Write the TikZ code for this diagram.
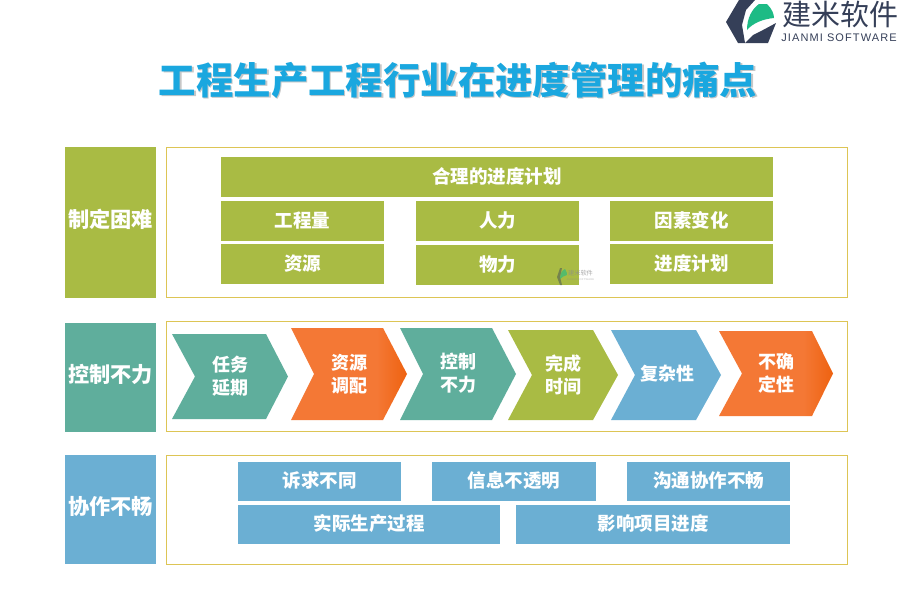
\documentclass[tikz,border=0pt]{standalone}
\usepackage{fontspec}
\usepackage{xcolor}
\usetikzlibrary{positioning}
\setmainfont{Noto Sans CJK SC}
\newfontfamily\logofont[LetterSpace=10]{Liberation Sans}
\definecolor{olive}{HTML}{A9BB44}
\definecolor{teal2}{HTML}{5FAE9C}
\definecolor{sky}{HTML}{6BAFD3}
\definecolor{orange2}{HTML}{F47835}
\definecolor{orange3}{HTML}{EE6210}
\definecolor{framecol}{HTML}{DDC555}
\definecolor{titlecol}{HTML}{1AA7DF}
\definecolor{logodark}{HTML}{353F58}
\definecolor{logogreen}{HTML}{1DBB85}
\pgfdeclarehorizontalshading{orangefade}{100bp}{color(0bp)=(orange2); color(62bp)=(orange2); color(75bp)=(orange3); color(100bp)=(orange3)}
\tikzset{
  tab/.style={fill=#1, minimum width=91pt, inner sep=0pt, outer sep=0pt, text=white, text height=16pt, text depth=6pt, font=\fontsize{21.2}{24}\selectfont\bfseries, anchor=north west},
  framebox/.style={draw=framecol, line width=1pt, fill=white, minimum width=680.5pt, inner sep=0pt, outer sep=0pt, anchor=north west},
  cell/.style={fill=#1, minimum width=163pt, minimum height=40pt, inner sep=0pt, outer sep=0pt, text=white, text height=16pt, text depth=4pt, font=\fontsize{18.5}{21}\selectfont\bfseries},
  arrowtext/.style={text=white, align=center, inner sep=0pt, font=\fontsize{18}{23}\selectfont\bfseries}
}
\begin{document}
\begin{tikzpicture}[x=1pt, y=-1pt]
  \useasboundingbox (0,0) rectangle (900,600);
  % logo
  \fill[logodark] (739,0) -- (755,0) -- (746,10) -- (742,25) -- (745,43) -- (738,43) -- (726,22) -- cycle;
  \fill[logodark] (745,43) -- (753,35) -- (763,30) -- (776,23) -- (768,43) -- cycle;
  \fill[logogreen] (747,30) .. controls (747,18) and (752,9) .. (759,4) -- (767,4) .. controls (772,9) and (774,14) .. (774,18) .. controls (763,19) and (753,23) .. (747,30) -- cycle;
  \node (L1) [anchor=center, inner sep=0pt, text=logodark, font=\fontsize{29}{30}\selectfont] at (840,14) {建米软件};
  \node (L2) [anchor=center, inner sep=0pt, text=logodark, font=\logofont\fontsize{11}{12}\selectfont] at (839,38) {JIANMI SOFTWARE};
  % title
  \node (S) [inner sep=0pt, text=black!22, font=\fontsize{37.4}{40}\selectfont\bfseries] at (459.5,81.5) {工程生产工程行业在进度管理的痛点};
  \node (T) [inner sep=0pt, text=titlecol, font=\fontsize{37.4}{40}\selectfont\bfseries] at (458,80) {工程生产工程行业在进度管理的痛点};
  % first row
  \node (A) [tab=olive, minimum height=151pt] at (65,147) {制定困难};
  \node (AF) [framebox, minimum height=150pt] at (166.5,147.5) {};
  \node (H) [cell=olive, minimum width=552pt, anchor=north west] at (221,157) {合理的进度计划};
  \node (A1) [cell=olive, anchor=north west] at (221,201) {工程量};
  \node (A2) [cell=olive, right=32pt of A1] {人力};
  \node (A3) [cell=olive, right=31pt of A2] {因素变化};
  \node (A4) [cell=olive, below=3pt of A1] {资源};
  \node (A5) [cell=olive, below=4pt of A2] {物力};
  \node (A6) [cell=olive, below=3pt of A3] {进度计划};
  % watermark
  \fill[logodark, opacity=.45] (557,277) -- (560,268) -- (562,268) -- (560,277) -- (562,285) -- (560,285) -- cycle;
  \fill[logogreen, opacity=.6] (560,279) .. controls (560,274) and (562,270) .. (565,269) .. controls (567,272) and (567,274) .. (567,275) .. controls (564,276) and (562,277) .. (560,279) -- cycle;
  \node (W) [inner sep=0pt, text=black!45, opacity=.75, font=\fontsize{6.2}{7}\selectfont] at (580.5,273) {建米软件};
  \node (W2) [inner sep=0pt, text=black!45, opacity=.6, font=\logofont\fontsize{2.6}{3}\selectfont] at (580.5,280) {JIANMI SOFTWARE};
  % second row
  \node (B) [tab=teal2, minimum height=109pt] at (65,323) {控制不力};
  \node (BF) [framebox, minimum height=109.5pt] at (166.5,321.5) {};
  \fill[teal2] (172,334) -- (266,334) -- (288,376.5) -- (266,419) -- (172,419) -- (195,376.5) -- cycle;
  \shade[shading=orangefade] (291,328) -- (383,328) -- (407,374) -- (383,420) -- (291,420) -- (314,374) -- cycle;
  \fill[teal2] (400,328) -- (492,328) -- (516,374) -- (492,420) -- (400,420) -- (423,374) -- cycle;
  \fill[olive] (508,330) -- (593,330) -- (618,375) -- (593,420) -- (508,420) -- (532,375) -- cycle;
  \fill[sky] (611,330) -- (696,330) -- (721,375) -- (696,420) -- (611,420) -- (635,375) -- cycle;
  \shade[shading=orangefade] (719,331) -- (812,331) -- (833,373.5) -- (812,416) -- (719,416) -- (742,373.5) -- cycle;
  \node (B1) [arrowtext] at (230,376.5) {任务\\延期};
  \node (B2) [arrowtext] at (349,374.5) {资源\\调配};
  \node (B3) [arrowtext] at (458,373.5) {控制\\不力};
  \node (B4) [arrowtext] at (563,374.5) {完成\\时间};
  \node (B5) [arrowtext] at (667,374) {复杂性};
  \node (B6) [arrowtext] at (776,373.5) {不确\\定性};
  % third row
  \node (C) [tab=sky, minimum height=109pt] at (65,455) {协作不畅};
  \node (CF) [framebox, minimum height=108.5pt] at (166.5,455.5) {};
  \node (C1) [cell=sky, minimum height=39pt, anchor=north west] at (238,462) {诉求不同};
  \node (C2) [cell=sky, minimum height=39pt, minimum width=164pt, right=31pt of C1] {信息不透明};
  \node (C3) [cell=sky, minimum height=39pt, right=31pt of C2] {沟通协作不畅};
  \node (C4) [cell=sky, minimum height=39pt, minimum width=262pt, anchor=north west] at (238,505) {实际生产过程};
  \node (C5) [cell=sky, minimum height=39pt, minimum width=274pt, right=16pt of C4] {影响项目进度};
\end{tikzpicture}
\end{document}
